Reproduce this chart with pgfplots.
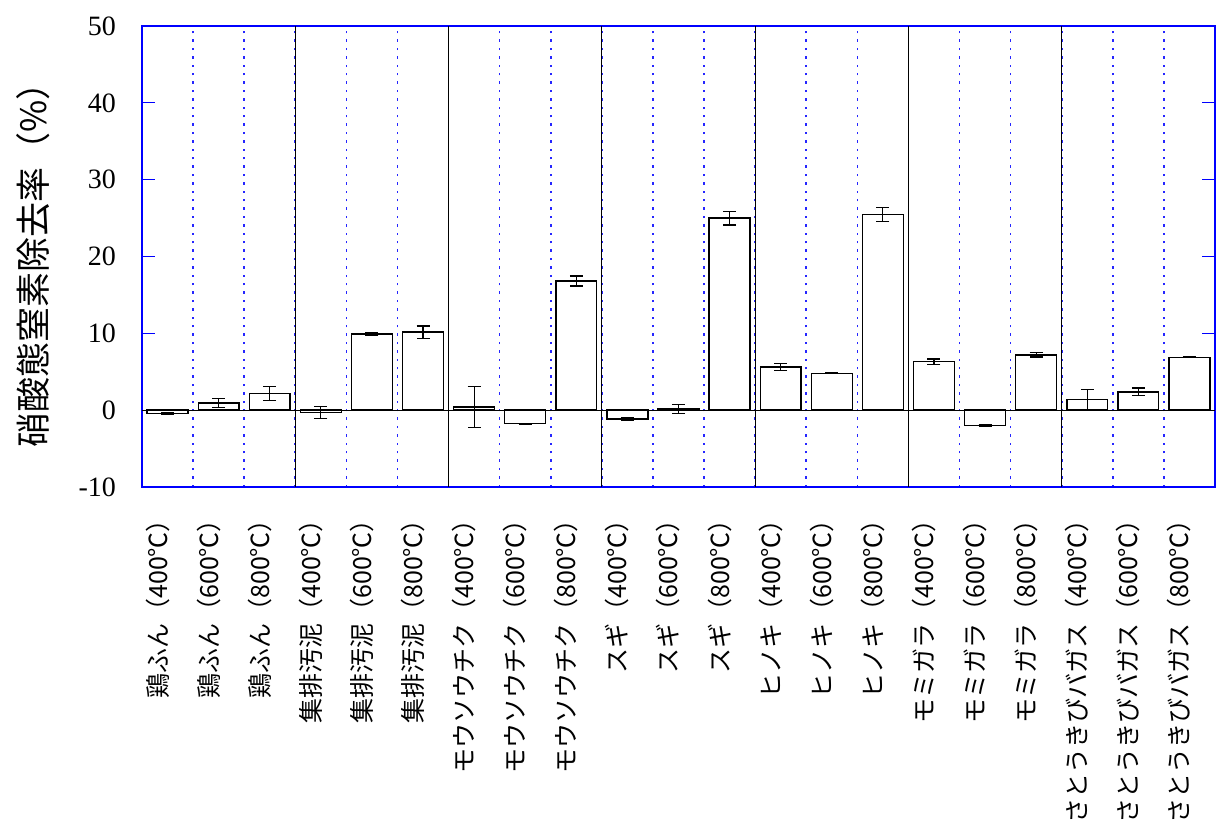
\documentclass[border=0pt]{standalone}
\usepackage{fontspec}
\setmainfont{Liberation Serif}
\newfontfamily\jp{Noto Sans CJK JP}
\usepackage{pgfplots}
\usepackage{pgfplotstable}
\pgfplotsset{compat=1.18}
\pgfplotstableread{
x y e
0 -0.43 0.08
1 0.95 0.6
2 2.17 0.9
3 -0.3 0.8
4 9.9 0.2
5 10.15 0.8
6 0.4 2.7
7 -1.74 0.05
8 16.8 0.65
9 -1.17 0.2
10 0.17 0.6
11 25.0 0.9
12 5.6 0.45
13 4.8 0.05
14 25.5 0.9
15 6.3 0.37
16 -2.0 0.1
17 7.2 0.28
18 1.39 1.3
19 2.38 0.5
20 6.86 0.05
}\datatable
\begin{document}
\begin{tikzpicture}
\begin{axis}[
  at={(0,0)}, anchor=south west,
  scale only axis,
  width=536.5pt, height=230.5pt,
  xmin=-0.5, xmax=20.5,
  ymin=-10, ymax=50,
  ytick={-10,0,10,20,30,40,50},
  ytick pos=both,
  axis line style={blue, line width=0.6pt},
  major tick style={blue, line width=0.6pt},
  major tick length=6.5pt,
  tick align=inside,
  /pgf/number format/assume math mode=true,
  yticklabel style={font=\fontsize{14}{16}\selectfont, text=black},
  yticklabel shift=9.5pt,
  xtick={0,...,20},
  xtick style={draw=none},
  xticklabels={鶏ふん（400℃）,鶏ふん（600℃）,鶏ふん（800℃）,集排汚泥（400℃）,集排汚泥（600℃）,集排汚泥（800℃）,モウソウチク（400℃）,モウソウチク（600℃）,モウソウチク（800℃）,スギ（400℃）,スギ（600℃）,スギ（800℃）,ヒノキ（400℃）,ヒノキ（600℃）,ヒノキ（800℃）,モミガラ（400℃）,モミガラ（600℃）,モミガラ（800℃）,さとうきびバガス（400℃）,さとうきびバガス（600℃）,さとうきびバガス（800℃）},
  xticklabel style={xshift=-5pt, rotate=90, anchor=east, font=\jp\fontsize{12.5}{14}\selectfont, text=black},
  xticklabel shift=0pt,
  minor xtick={0.5,1.5,...,19.5},
  minor tick length=6pt,
  minor x tick style={blue, line width=0.6pt},
  xminorgrids=true,
  minor x grid style={blue!85!white, dash pattern=on 1.2pt off 3pt, line width=0.8pt},
  extra x ticks={2.5,5.5,8.5,11.5,14.5,17.5},
  extra x tick labels={},
  extra x tick style={grid=major, major grid style={black, solid, line width=0.5pt}, major tick length=0pt},
  extra y ticks={0},
  extra y tick labels={},
  extra y tick style={grid=major, major grid style={black, solid, line width=0.6pt}, major tick length=0pt},
  ylabel={\jp\fontsize{17.5}{20}\selectfont 硝酸態窒素除去率（\%）},
  ylabel style={at={(axis description cs:-0.1016,0.5)}, anchor=center},
  ybar, bar width=0.8,
  clip=false,
]
\addplot[draw=black, fill=white, line width=0.7pt,
  error bars/.cd, y dir=both, y explicit,
  error bar style={black, line width=0.6pt},
  error mark options={rotate=90, mark size=3.25pt, black, line width=0.6pt}]
  table[x=x, y=y, y error=e]{\datatable};
\end{axis}
\pgfresetboundingbox
\path[use as bounding box] (-71pt,-168pt) rectangle (537pt,243.5pt);
\end{tikzpicture}
\end{document}
